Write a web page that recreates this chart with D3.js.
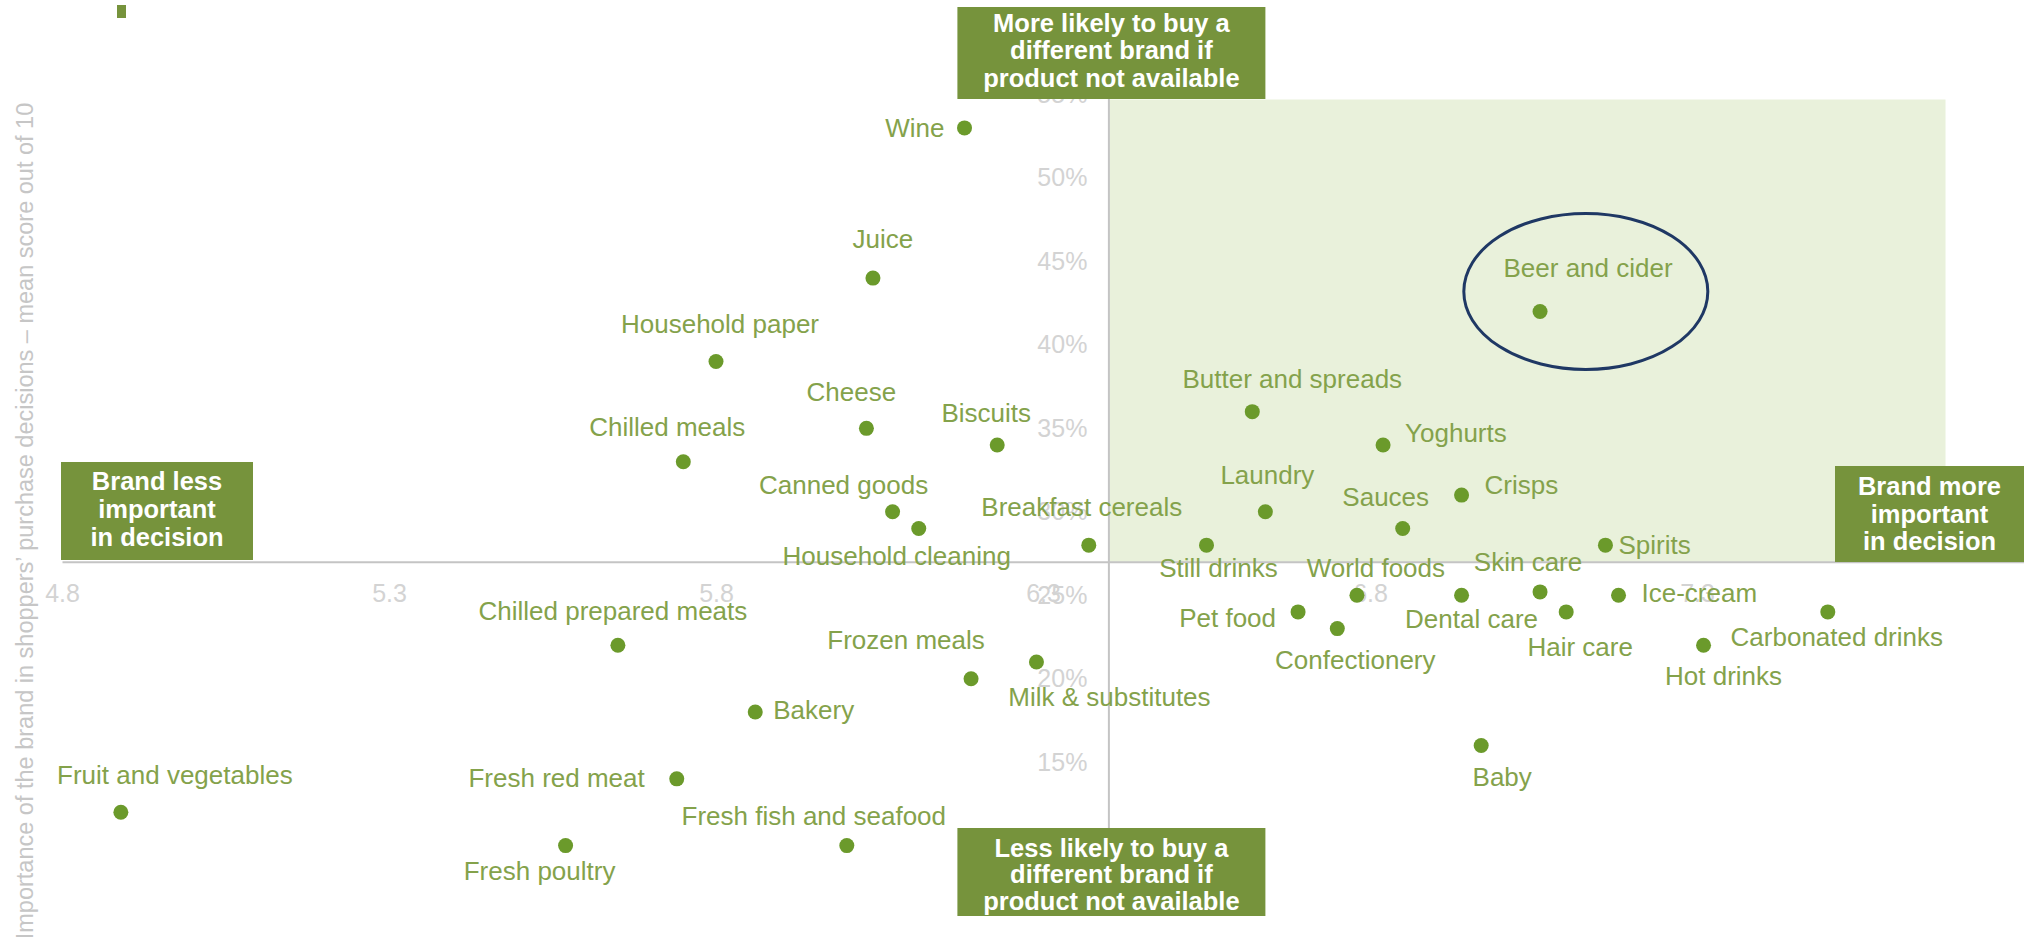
<!DOCTYPE html>
<html>
<head>
<meta charset="utf-8">
<script src="https://cdn.jsdelivr.net/npm/d3@7"></script>
<style>
  body { margin: 0; background: #ffffff; }
  svg text { font-family: "Liberation Sans", Arial, sans-serif; }
</style>
</head>
<body>
<div id="chart"></div>
<script>
// Data
var categories = ['Wine', 'Juice', 'Household paper', 'Cheese', 'Chilled meals', 'Biscuits',
    'Canned goods', 'Household cleaning', 'Breakfast cereals', 'Butter and spreads', 'Laundry',
    'Yoghurts', 'Sauces', 'Crisps', 'Spirits', 'Still drinks', 'World foods', 'Pet food',
    'Confectionery', 'Dental care', 'Skin care', 'Hair care', 'Ice-cream', 'Carbonated drinks',
    'Hot drinks', 'Baby', 'Beer and cider', 'Chilled prepared meats', 'Frozen meals',
    'Milk & substitutes', 'Bakery', 'Fruit and vegetables', 'Fresh red meat', 'Fresh poultry',
    'Fresh fish and seafood'];

// mean score out of 10 (x)
var brand_score = [6.18, 6.04, 5.80, 6.03, 5.75, 6.23,
    6.07, 6.11, 6.37, 6.62, 6.64,
    6.82, 6.85, 6.94, 7.16, 6.55, 6.78, 6.69,
    6.75, 6.94, 7.06, 7.10, 7.18, 7.50,
    7.31, 6.97, 7.06, 5.65, 6.19,
    6.29, 5.86, 4.89, 5.74, 5.57,
    6.00];

// % more likely to buy a different brand (y)
var switch_pct = [53, 44, 39, 35, 33, 34,
    30, 29, 28, 36, 30,
    34, 29, 31, 28, 28, 25, 24,
    23, 25, 25.2, 24, 25, 24,
    22, 16, 42, 22, 20,
    21, 18, 12, 14, 10,
    10];

var x_ticks = [4.8, 5.3, 5.8, 6.3, 6.8, 7.3];
var y_ticks = [10, 15, 20, 25, 30, 35, 40, 45, 50, 55];

var y_title = 'Importance of the brand in shoppers\u2019 purchase decisions \u2013 mean score out of 10';
var top_box = ['More likely to buy a', 'different brand if', 'product not available'];
var bottom_box = ['Less likely to buy a', 'different brand if', 'product not available'];
var left_box = ['Brand less', 'important', 'in decision'];
var right_box = ['Brand more', 'important', 'in decision'];

// label placement: [anchor, dx, dy] relative to the dot
var label_pos = {
    'Wine': ['end', -20, 0],
    'Juice': ['middle', 10, -39],
    'Household paper': ['middle', 4, -38],
    'Cheese': ['middle', -15, -36],
    'Chilled meals': ['middle', -16, -35],
    'Biscuits': ['middle', -11, -32],
    'Canned goods': ['middle', -49, -27],
    'Household cleaning': ['middle', -22, 27],
    'Breakfast cereals': ['middle', -7, -38],
    'Butter and spreads': ['middle', 40, -33],
    'Laundry': ['middle', 2, -37],
    'Yoghurts': ['start', 22, -12],
    'Sauces': ['middle', -17, -32],
    'Crisps': ['start', 23, -10],
    'Spirits': ['start', 13, 0],
    'Still drinks': ['middle', 12, 23],
    'World foods': ['middle', 19, -27],
    'Pet food': ['end', -22, 6],
    'Confectionery': ['middle', 18, 31],
    'Dental care': ['middle', 10, 24],
    'Skin care': ['middle', -12, -30],
    'Hair care': ['middle', 14, 35],
    'Ice-cream': ['start', 23, -2],
    'Carbonated drinks': ['middle', 9, 25],
    'Hot drinks': ['middle', 20, 31],
    'Baby': ['middle', 21, 31],
    'Beer and cider': ['middle', 48, -44],
    'Chilled prepared meats': ['middle', -5, -34],
    'Frozen meals': ['middle', -65, -39],
    'Milk & substitutes': ['middle', 73, 35],
    'Bakery': ['start', 18, -2],
    'Fruit and vegetables': ['middle', 54, -37],
    'Fresh red meat': ['end', -32, -1],
    'Fresh poultry': ['middle', -26, 25],
    'Fresh fish and seafood': ['middle', -33, -30]
};

var chart_width = 2024;
var chart_height = 944;
var dark_green = '#76933c';
var dot_green = '#6b9a2b';
var text_green = '#84a24b';

var svg = d3.select('#chart')
    .append('svg')
    .attr('width', chart_width)
    .attr('height', chart_height);

// Scales
var x_scale = d3.scaleLinear()
    .domain([4.8, 7.8])
    .range([62, 2024]);

var y_scale = d3.scaleLinear()
    .domain([10, 55])
    .range([845.6, 94.5]);

var x_cross = 6.4;   // vertical axis crosses here
var y_cross = 27;    // horizontal axis crosses here

// Shaded upper-right quadrant
svg.append('rect')
    .attr('x', x_scale(x_cross))
    .attr('y', y_scale(54.7))
    .attr('width', x_scale(7.68) - x_scale(x_cross))
    .attr('height', y_scale(y_cross) - y_scale(54.7))
    .attr('fill', '#e9f1db');

// Axes
var x_axis = d3.axisBottom(x_scale)
    .tickValues(x_ticks)
    .tickSize(0)
    .tickPadding(22)
    .tickFormat(d3.format('.1f'));

var y_axis = d3.axisLeft(y_scale)
    .tickValues(y_ticks)
    .tickSize(0)
    .tickPadding(21)
    .tickFormat(function(d) { return d + '%'; });

var gx = svg.append('g')
    .attr('class', 'x-axis')
    .attr('transform', 'translate(0,' + y_scale(y_cross) + ')')
    .call(x_axis);

var gy = svg.append('g')
    .attr('class', 'y-axis')
    .attr('transform', 'translate(' + x_scale(x_cross) + ',0)')
    .call(y_axis);

[gx, gy].forEach(function(g) {
    g.select('.domain')
        .attr('stroke', '#c4c4c4')
        .attr('stroke-width', 2);
    g.selectAll('text')
        .attr('fill', '#d3d3d3')
        .attr('font-size', 25)
        .attr('font-family', '"Liberation Sans", Arial, sans-serif');
});

// Axis title
svg.append('text')
    .attr('transform', 'translate(25,' + 521 + ') rotate(-90)')
    .attr('text-anchor', 'middle')
    .attr('dy', '0.35em')
    .attr('font-size', 23.5)
    .attr('fill', '#c6c6c6')
    .text(y_title);

// Points
var points = categories.map(function(c, i) {
    return { name: c, x: brand_score[i], y: switch_pct[i] };
});

svg.selectAll('circle.dot')
    .data(points)
    .enter()
    .append('circle')
    .attr('class', 'dot')
    .attr('cx', function(d) { return x_scale(d.x); })
    .attr('cy', function(d) { return y_scale(d.y); })
    .attr('r', 7.5)
    .attr('fill', dot_green);

svg.selectAll('text.label')
    .data(points)
    .enter()
    .append('text')
    .attr('class', 'label')
    .attr('x', function(d) { return x_scale(d.x) + label_pos[d.name][1]; })
    .attr('y', function(d) { return y_scale(d.y) + label_pos[d.name][2]; })
    .attr('dy', '0.35em')
    .attr('text-anchor', function(d) { return label_pos[d.name][0]; })
    .attr('font-size', 26)
    .attr('fill', text_green)
    .text(function(d) { return d.name; });

// Highlight ring round Beer and cider
svg.append('ellipse')
    .attr('cx', x_scale(7.13))
    .attr('cy', y_scale(43.2))
    .attr('rx', 122)
    .attr('ry', 78)
    .attr('fill', 'none')
    .attr('stroke', '#1f3864')
    .attr('stroke-width', 3);

// Quadrant boxes
function draw_box(x, y, w, h, lines, baselines) {
    svg.append('rect')
        .attr('x', x)
        .attr('y', y)
        .attr('width', w)
        .attr('height', h)
        .attr('fill', dark_green);
    svg.selectAll(null)
        .data(lines)
        .enter()
        .append('text')
        .attr('x', x + w / 2)
        .attr('y', function(d, i) { return y + baselines[i]; })
        .attr('text-anchor', 'middle')
        .attr('font-size', 25.5)
        .attr('font-weight', 'bold')
        .attr('fill', '#ffffff')
        .text(function(d) { return d; });
}

draw_box(x_scale(x_cross) - 151, 7, 308, 92, top_box, [25, 52, 80]);
draw_box(x_scale(x_cross) - 151, 828, 308, 88, bottom_box, [29, 55, 82]);
draw_box(61, 462, 192, 98, left_box, [28, 56, 84]);
draw_box(1835, 466, 189, 96, right_box, [29, 57, 84]);

// small marker cut at the top edge
svg.append('rect')
    .attr('x', 117)
    .attr('y', 5)
    .attr('width', 9)
    .attr('height', 13)
    .attr('fill', dark_green);
</script>
</body>
</html>
